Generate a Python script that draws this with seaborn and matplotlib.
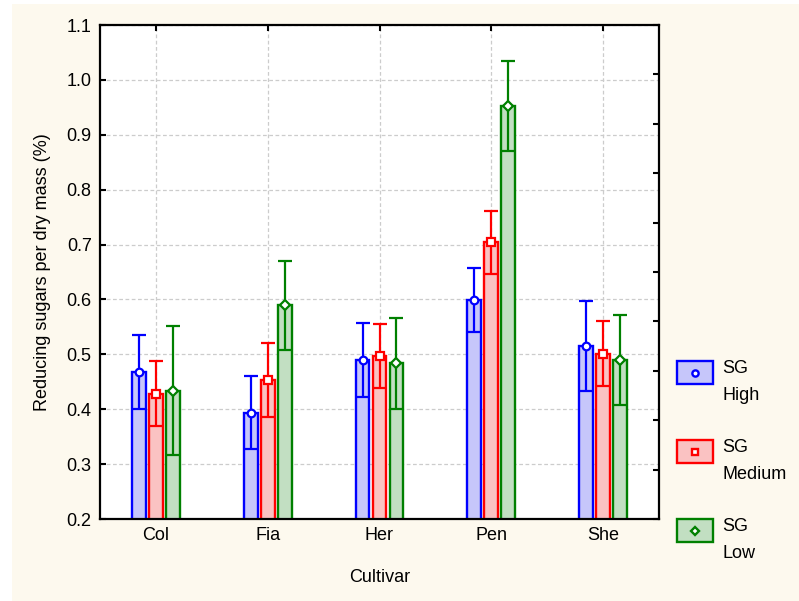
import numpy as np
import pandas as pd
import seaborn as sns
import matplotlib.pyplot as plt
from matplotlib.patches import Patch, Rectangle
from matplotlib.lines import Line2D
from matplotlib.legend_handler import HandlerBase

# Reducing sugar content (% of dry mass) by cultivar and SG class: means and error half-widths
cultivars = ["Col", "Fia", "Her", "Pen", "She"]
sg_levels = ["High", "Medium", "Low"]
mean_high = [0.468, 0.394, 0.490, 0.599, 0.515]
mean_medium = [0.428, 0.453, 0.497, 0.704, 0.501]
mean_low = [0.434, 0.589, 0.484, 0.953, 0.489]
err_high = [0.067, 0.067, 0.067, 0.058, 0.082]
err_medium = [0.059, 0.068, 0.058, 0.058, 0.059]
err_low = [0.117, 0.081, 0.083, 0.082, 0.082]
y_ticks = [0.2, 0.3, 0.4, 0.5, 0.6, 0.7, 0.8, 0.9, 1.0, 1.1]

means = {"High": mean_high, "Medium": mean_medium, "Low": mean_low}
errs = {"High": err_high, "Medium": err_medium, "Low": err_low}
edge_colors = {"High": "#0000FF", "Medium": "#FF0000", "Low": "#008000"}
fill_colors = {"High": "#C6C6FA", "Medium": "#FAC2C2", "Low": "#C2DFC2"}
markers = {"High": "o", "Medium": "s", "Low": "D"}
marker_sizes = {"High": 5.5, "Medium": 6, "Low": 5}

df = pd.DataFrame(
    [(c, lvl, means[lvl][i]) for lvl in sg_levels for i, c in enumerate(cultivars)],
    columns=["Cultivar", "SG", "value"],
)

sns.set_theme(style="white")
plt.rcParams["font.family"] = ["Liberation Sans", "DejaVu Sans"]
plt.rcParams["font.size"] = 13
for key in ("text.color", "axes.labelcolor", "xtick.color", "ytick.color"):
    plt.rcParams[key] = "black"


class SwatchHandler(HandlerBase):
    """Filled swatch with the group marker in its centre, lifted to the first label line."""

    def __init__(self, lift=0, **kw):
        super().__init__(**kw)
        self.lift = lift

    def create_artists(self, legend, orig_handle, xdescent, ydescent, width, height,
                       fontsize, trans):
        patch, line = orig_handle
        x0, y0 = -xdescent, -ydescent + self.lift
        rect = Rectangle((x0, y0), width, height, facecolor=patch.get_facecolor(),
                         edgecolor=patch.get_edgecolor(), linewidth=patch.get_linewidth(),
                         transform=trans)
        mark = Line2D([x0 + width / 2], [y0 + height / 2], ls="none",
                      marker=line.get_marker(), ms=line.get_markersize(),
                      mfc=line.get_markerfacecolor(), mec=line.get_markeredgecolor(),
                      mew=line.get_markeredgewidth(), transform=trans)
        return [rect, mark]


fig = plt.figure(figsize=(7.99, 6.01), dpi=100, facecolor="white")
fig.patches.append(Rectangle((12 / 799, 0), 1, (601 - 4) / 601, transform=fig.transFigure,
                             facecolor="#FDF9EE", edgecolor="none", zorder=-10))
ax = fig.add_axes([100 / 799, 1 - 519 / 601, 559 / 799, 494 / 601])
ax.set_facecolor("white")

sns.barplot(data=df, x="Cultivar", y="value", hue="SG", order=cultivars, hue_order=sg_levels,
            palette=fill_colors, width=0.455, gap=0.18, errorbar=None, saturation=1,
            linewidth=1.5, legend=False, ax=ax)

for lvl, cont in zip(sg_levels, ax.containers):
    ec = edge_colors[lvl]
    xs, ys = [], []
    for p in cont.patches:
        p.set_edgecolor(ec)
        p.set_linewidth(1.7)
        p.set_zorder(2)
        xs.append(p.get_x() + p.get_width() / 2)
        ys.append(p.get_height())
    ax.errorbar(xs, ys, yerr=errs[lvl], fmt="none", ecolor=ec, elinewidth=1.6,
                capsize=5, capthick=1.6, zorder=3)
    ax.plot(xs, ys, ls="none", marker=markers[lvl], ms=marker_sizes[lvl],
            mfc="white", mec=ec, mew=1.6, zorder=4)

ax.set_ylim(0.2, 1.1)
ax.set_xlim(-0.5, 4.5)
ax.set_yticks(y_ticks)
ax.set_yticklabels([f"{t:.1f}" for t in y_ticks])
ax.set_axisbelow(True)
ax.grid(True, axis="both", color="#CCCCCC", linestyle=(0, (3, 2)), linewidth=0.9)
ax.tick_params(axis="both", direction="in", length=4, width=1.5, colors="black",
               labelsize=13, top=True, right=False, pad=6)
for s in ax.spines.values():
    s.set_color("black")
    s.set_linewidth(1.6)

ax2 = ax.twinx()
ax2.set_ylim(0, 1)
ax2.set_yticks(np.arange(0, 1.01, 0.1))
ax2.tick_params(axis="y", direction="in", length=4, width=1.5, labelright=False)
ax2.grid(False)
for s in ax2.spines.values():
    s.set_visible(False)

ax.set_xlabel("Cultivar", fontsize=13, labelpad=18)
ax.set_ylabel("Reducing sugars per dry mass (%)", fontsize=13, labelpad=11)

handles = [
    (Patch(facecolor=fill_colors[l], edgecolor=edge_colors[l], linewidth=1.7),
     Line2D([], [], ls="none", marker=markers[l], ms=marker_sizes[l] - 1,
            mfc="white", mec=edge_colors[l], mew=1.7))
    for l in sg_levels
]
labels = [f"SG\n{l}" for l in sg_levels]
leg = fig.legend(handles, labels, handler_map={tuple: SwatchHandler(lift=7)},
                 loc="upper left", bbox_to_anchor=(668 / 799, 1 - 351 / 601), frameon=False,
                 fontsize=13, handlelength=2.0, handleheight=1.55, labelspacing=1.95,
                 handletextpad=0.5, borderpad=0)
for t in leg.get_texts():
    t.set_linespacing(1.75)

fig.savefig("out.png", dpi=100, facecolor=fig.get_facecolor())
